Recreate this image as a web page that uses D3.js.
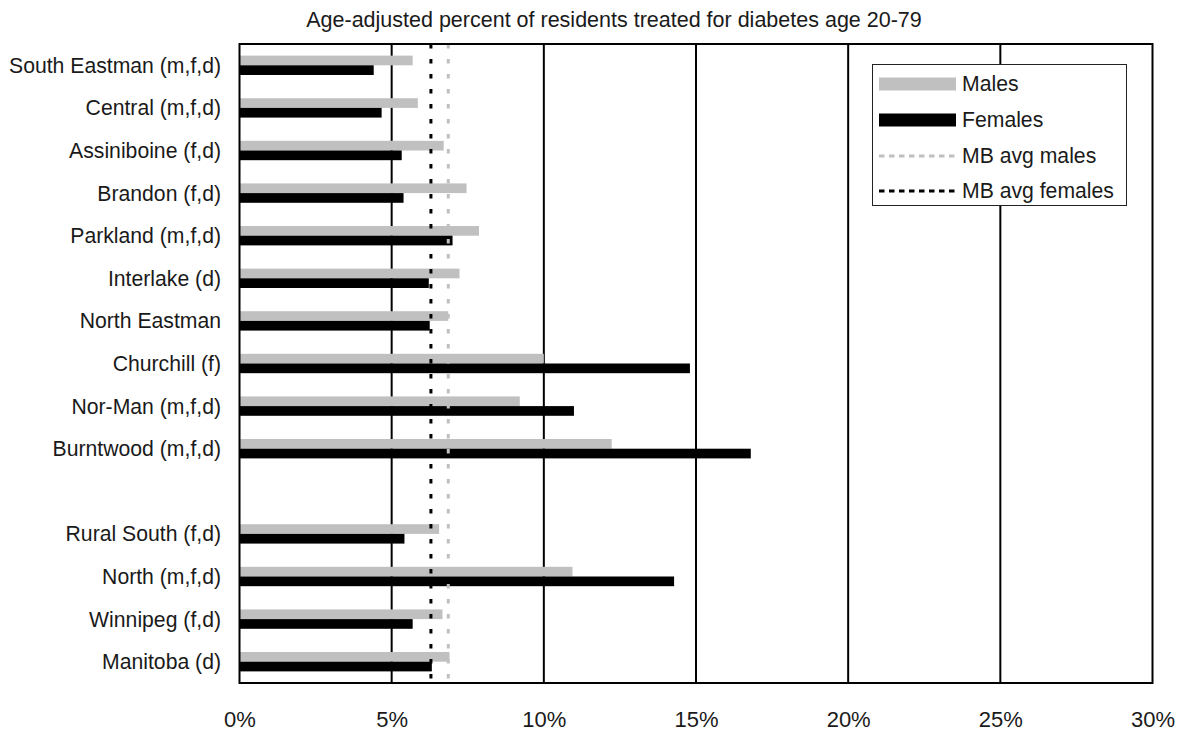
<!DOCTYPE html>
<html>
<head>
<meta charset="utf-8">
<script src="https://cdn.jsdelivr.net/npm/d3@7"></script>
<style>
  html, body { margin: 0; padding: 0; background: #fff; }
  svg { display: block; font-family: "Liberation Sans", Arial, sans-serif; }
</style>
</head>
<body>
<svg id="chart" width="1184" height="732"></svg>
<script>
const title = "Age-adjusted percent of residents treated for diabetes age 20-79";
const categories = ["South Eastman (m,f,d)", "Central (m,f,d)", "Assiniboine (f,d)", "Brandon (f,d)",
  "Parkland (m,f,d)", "Interlake (d)", "North Eastman", "Churchill (f)", "Nor-Man (m,f,d)",
  "Burntwood (m,f,d)", "", "Rural South (f,d)", "North (m,f,d)", "Winnipeg (f,d)", "Manitoba (d)"];
const males   = [5.69, 5.86, 6.71, 7.46, 7.87, 7.23, 6.86, 10.0, 9.21, 12.23, null, 6.56, 10.94, 6.67, 6.90];
const females = [4.41, 4.67, 5.33, 5.39, 7.00, 6.22, 6.25, 14.80, 10.99, 16.80, null, 5.42, 14.28, 5.69, 6.32];
const avgMales = 6.86;
const avgFemales = 6.29;
const tickValues = [0, 5, 10, 15, 20, 25, 30];
const seriesNames = ["Males", "Females"];
const legendNames = ["Males", "Females", "MB avg males", "MB avg females"];

const svg = d3.select("#chart");
const L = 239.5, R = 1152.5, T = 44, B = 683;
const x = d3.scaleLinear().domain([0, 30]).range([L, R]);
const y = d3.scaleBand().domain(categories).range([T, B]).paddingInner(0.545).paddingOuter(0.2725);
const ySub = d3.scaleBand().domain(seriesNames).range([0, y.bandwidth()]);
const colors = { "Males": "#c0c0c0", "Females": "#000000" };
const textColor = "#1a1a1a";

// title
svg.append("text").attr("x", 614).attr("y", 27).attr("text-anchor", "middle")
  .attr("font-size", 21.5).attr("fill", textColor).text(title);

// gridlines
svg.append("g").selectAll("line").data(tickValues.filter(d => d > 0 && d < 30)).join("line")
  .attr("x1", d => x(d)).attr("x2", d => x(d)).attr("y1", T).attr("y2", B)
  .attr("stroke", "#000").attr("stroke-width", 2);

// bars
const rows = categories.map((c, i) => ({ c, Males: males[i], Females: females[i] }));
const g = svg.append("g");
seriesNames.forEach(s => {
  g.selectAll("rect." + s).data(rows.filter(r => r[s] != null)).join("rect")
    .attr("class", s)
    .attr("x", x(0))
    .attr("y", r => y(r.c) + ySub(s))
    .attr("width", r => x(r[s]) - x(0))
    .attr("height", ySub.bandwidth())
    .attr("fill", colors[s]);
});

// average lines
svg.append("line").attr("x1", x(avgMales)).attr("x2", x(avgMales)).attr("y1", T).attr("y2", B)
  .attr("stroke", "#c0c0c0").attr("stroke-width", 3).attr("stroke-dasharray", "4.5,10.5");
svg.append("line").attr("x1", x(avgFemales)).attr("x2", x(avgFemales)).attr("y1", T).attr("y2", B)
  .attr("stroke", "#000").attr("stroke-width", 3).attr("stroke-dasharray", "4.5,10.5");

// border
svg.append("rect").attr("x", L).attr("y", T).attr("width", R - L).attr("height", B - T)
  .attr("fill", "none").attr("stroke", "#000").attr("stroke-width", 2);

// y labels
svg.append("g").selectAll("text").data(categories.filter(c => c !== "")).join("text")
  .attr("x", 221).attr("y", c => y(c) + y.bandwidth() / 2 + 7.5)
  .attr("text-anchor", "end").attr("font-size", 21.2).attr("fill", textColor).text(c => c);

// x axis tick labels
const xAxis = d3.axisBottom(x).tickValues(tickValues).tickFormat(d => d + "%").tickSize(0).tickPadding(0);
const ax = svg.append("g").attr("transform", `translate(0,${B})`).call(xAxis);
ax.select(".domain").remove();
ax.selectAll("text").attr("font-size", 22).attr("fill", textColor)
  .attr("font-family", "Liberation Sans, Arial, sans-serif").attr("dy", 0).attr("y", 44);

// legend
const lg = svg.append("g");
lg.append("rect").attr("x", 872.5).attr("y", 64.5).attr("width", 254).attr("height", 141)
  .attr("fill", "#fff").attr("stroke", "#222").attr("stroke-width", 1);
const ly = [84, 120, 156, 191];
lg.append("rect").attr("x", 879).attr("y", ly[0] - 6.5).attr("width", 77).attr("height", 13).attr("fill", "#c0c0c0");
lg.append("rect").attr("x", 879).attr("y", ly[1] - 6.5).attr("width", 77).attr("height", 13).attr("fill", "#000");
lg.append("line").attr("x1", 879).attr("x2", 957).attr("y1", ly[2]).attr("y2", ly[2])
  .attr("stroke", "#c0c0c0").attr("stroke-width", 3).attr("stroke-dasharray", "5.5,4.5");
lg.append("line").attr("x1", 879).attr("x2", 957).attr("y1", ly[3]).attr("y2", ly[3])
  .attr("stroke", "#000").attr("stroke-width", 3).attr("stroke-dasharray", "5.5,4.5");
lg.selectAll("text").data(legendNames).join("text")
  .attr("x", 962).attr("y", (d, i) => ly[i] + 6.5)
  .attr("font-size", 21.2).attr("fill", textColor).text(d => d);
</script>
</body>
</html>
